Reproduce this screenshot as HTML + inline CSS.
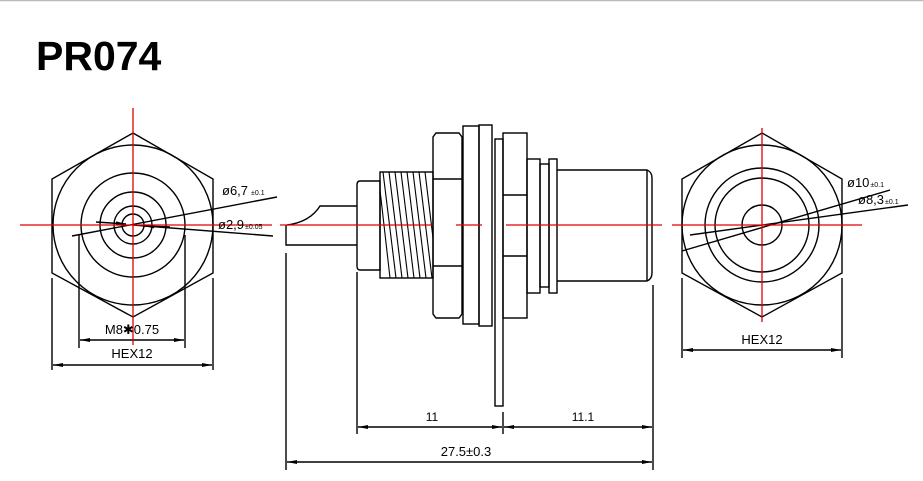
<!DOCTYPE html>
<html><head><meta charset="utf-8"><style>
html,body{margin:0;padding:0;background:#fff;width:923px;height:481px;overflow:hidden}
svg{display:block}
text{font-family:"Liberation Sans",sans-serif;fill:#000}
</style></head><body>
<svg width="923" height="481" viewBox="0 0 923 481" xmlns="http://www.w3.org/2000/svg">
<defs>
<marker id="a" viewBox="0 0 10 4" refX="10" refY="2" markerWidth="10" markerHeight="4" orient="auto-start-reverse" markerUnits="userSpaceOnUse"><path d="M0,0L10,2L0,4z" fill="#000"/></marker>
</defs>
<line x1="0" y1="0.5" x2="923" y2="0.5" stroke="#bbb" stroke-width="1.5"/>
<text x="36" y="70" font-size="41" font-weight="bold">PR074</text>

<g fill="none" stroke="#000" stroke-width="1.4">
<!-- left view -->
<polygon points="133,133 213,179 213,273 133,317 52,273 52,179"/>
<circle cx="133" cy="225" r="80"/>
<circle cx="133" cy="225" r="52"/>
<circle cx="133" cy="225" r="33"/>
<circle cx="133" cy="225" r="19"/>
<circle cx="133" cy="225" r="11"/>
<line x1="72" y1="236" x2="277" y2="197"/>
<line x1="133" y1="225" x2="273" y2="236"/>
<line x1="96" y1="222" x2="126" y2="224" marker-end="url(#a)"/>
<line x1="170" y1="227" x2="144" y2="226" marker-end="url(#a)"/>
<line x1="79" y1="235" x2="79" y2="348"/>
<line x1="185" y1="235" x2="185" y2="348"/>
<line x1="80" y1="340" x2="184" y2="340" marker-start="url(#a)" marker-end="url(#a)"/>
<line x1="52" y1="278" x2="52" y2="370"/>
<line x1="213" y1="278" x2="213" y2="370"/>
<line x1="53" y1="365" x2="212" y2="365" marker-start="url(#a)" marker-end="url(#a)"/>

<!-- center view -->
<path d="M287,225 Q310,222 320,206 L357,206 M286,225 L286,245 L357,245"/>
<path d="M360,181 L380,181 L380,270 L360,270 Q357,270 357,266 L357,185 Q357,181 360,181z"/>
<rect x="380" y="172" width="53" height="106"/>
<g stroke-width="1.1">
<line x1="383" y1="172" x2="396" y2="278"/><line x1="389" y1="172" x2="402" y2="278"/>
<line x1="395" y1="172" x2="408" y2="278"/><line x1="401" y1="172" x2="414" y2="278"/>
<line x1="407" y1="172" x2="420" y2="278"/><line x1="413" y1="172" x2="426" y2="278"/>
<line x1="419" y1="172" x2="432" y2="278"/><line x1="425" y1="172" x2="433" y2="238"/>
<line x1="380" y1="190" x2="390" y2="278"/>
</g>
<path d="M436,133 L459,133 L462,137 L462,314 L459,318 L436,318 L433,314 L433,137z"/>
<line x1="433" y1="179" x2="462" y2="179"/><line x1="433" y1="266" x2="462" y2="266"/>
<rect x="463" y="126" width="16" height="198"/>
<rect x="479" y="125" width="13" height="201"/>
<rect x="495" y="139" width="8" height="267"/>
<rect x="503" y="133" width="24" height="185"/>
<line x1="503" y1="195" x2="527" y2="195"/><line x1="503" y1="256" x2="527" y2="256"/>
<rect x="527" y="159" width="13" height="134"/>
<rect x="540" y="164" width="9" height="123"/>
<rect x="549" y="159" width="8" height="134"/>
<path d="M557,170 L647,170 Q652,172 652,178 L652,273 Q652,279 647,281 L557,281"/>
<line x1="647" y1="170" x2="647" y2="281"/>
<line x1="286" y1="253" x2="286" y2="470"/>
<line x1="357" y1="272" x2="357" y2="434"/>
<line x1="503" y1="412" x2="503" y2="434"/>
<line x1="653" y1="285" x2="653" y2="470"/>
<line x1="358" y1="427" x2="502" y2="427" marker-start="url(#a)" marker-end="url(#a)"/>
<line x1="504" y1="427" x2="652" y2="427" marker-start="url(#a)" marker-end="url(#a)"/>
<line x1="287" y1="462" x2="652" y2="462" marker-start="url(#a)" marker-end="url(#a)"/>

<!-- right view -->
<polygon points="762,133 842,179 842,273 762,317 682,273 682,179"/>
<circle cx="762" cy="225" r="80"/>
<circle cx="762" cy="225" r="57"/>
<circle cx="762" cy="225" r="47"/>
<circle cx="762" cy="225" r="20"/>
<line x1="682" y1="251" x2="890" y2="190"/>
<line x1="690" y1="235" x2="908" y2="205"/>
<line x1="842" y1="278" x2="842" y2="358"/>
<line x1="682" y1="278" x2="682" y2="358"/>
<line x1="683" y1="350" x2="841" y2="350" marker-start="url(#a)" marker-end="url(#a)"/>
</g>

<g stroke="#e00000" stroke-width="1.3">
<line x1="20" y1="225" x2="272" y2="225"/>
<line x1="133" y1="108" x2="133" y2="345"/>
<line x1="280" y1="225" x2="432" y2="225"/>
<line x1="456" y1="225" x2="482" y2="225"/>
<line x1="506" y1="225" x2="662" y2="225"/>
<line x1="672" y1="225" x2="862" y2="225"/>
<line x1="762" y1="128" x2="762" y2="322"/>
</g>

<text x="222" y="195" font-size="13">ø6,7<tspan font-size="7" dx="3">±0.1</tspan></text>
<text x="218" y="229" font-size="13">ø2,9<tspan font-size="7" dx="1">±0.05</tspan></text>
<text x="847" y="187" font-size="13">ø10<tspan font-size="7" dx="1">±0.1</tspan></text>
<text x="858" y="204" font-size="13">ø8,3<tspan font-size="7" dx="1">±0.1</tspan></text>
<text x="132" y="334" font-size="13" text-anchor="middle">M8✱0.75</text>
<text x="132" y="358" font-size="13" text-anchor="middle">HEX12</text>
<text x="762" y="344" font-size="13" text-anchor="middle">HEX12</text>
<text x="432" y="421" font-size="12" text-anchor="middle">11</text>
<text x="583" y="421" font-size="12" text-anchor="middle">11.1</text>
<text x="466" y="456" font-size="13" text-anchor="middle">27.5±0.3</text>
</svg>
</body></html>
